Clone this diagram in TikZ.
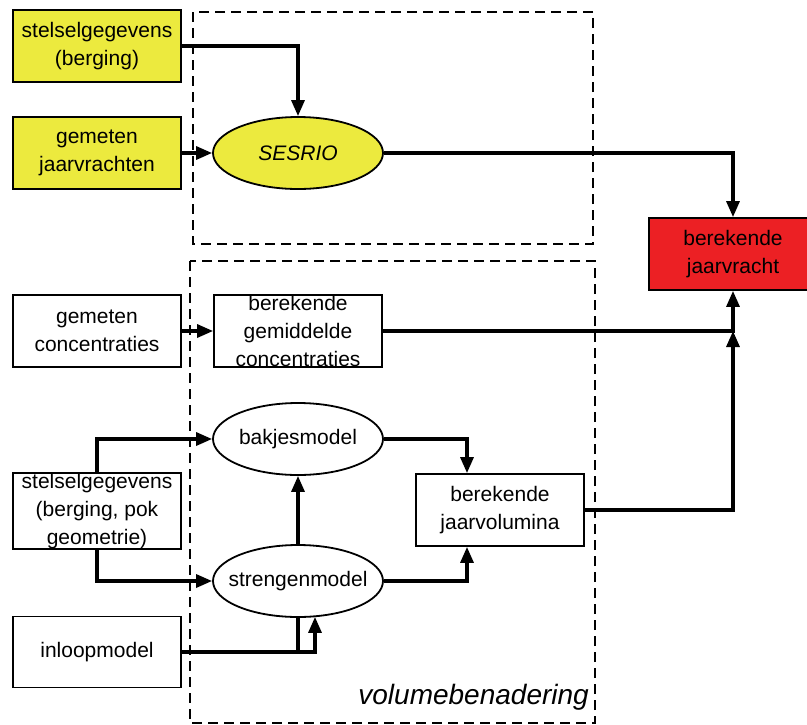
\documentclass[tikz,border=0pt]{standalone}
\usepackage{fontspec}
\setmainfont{Liberation Sans}
\usetikzlibrary{shapes.geometric,arrows.meta}
\definecolor{ylw}{RGB}{236,234,62}
\definecolor{rd}{RGB}{236,32,36}
\tikzset{
  txt/.style={align=center,font=\fontsize{21}{28}\selectfont,inner sep=0pt},
  box/.style={txt,draw,line width=1.8pt,minimum width=168pt,minimum height=72pt},
  ell/.style={txt,ellipse,draw,line width=1.8pt,minimum width=170pt,minimum height=72pt},
  conn/.style={line width=3.2pt},
  arr/.style={conn,-{Triangle[length=16pt,width=13pt]}},
  dbox/.style={draw,line width=1.6pt,dash pattern=on 10pt off 6pt}
}
\begin{document}
\begin{tikzpicture}[x=1pt,y=-1pt]
\clip (0,0) rectangle (807,724);
\fill[white] (0,0) rectangle (807,724);
% dashed groups
\draw[dbox] (193,12) rectangle (593,244);
\draw[dbox] (190,261) rectangle (595,723);
\node[txt,anchor=east,font=\fontsize{28}{32}\selectfont\itshape] (vb) at (589,697) {volumebenadering};
% nodes
\node[box,fill=ylw] (s1) at (97,46) {stelselgegevens\\(berging)};
\node[box,fill=ylw] (gj) at (97,153) {gemeten\\jaarvrachten};
\node[ell,fill=ylw] (ses) at (298,153) {\makebox[0pt]{\itshape SESRIO}};
\node[box,fill=rd] (red) at (733,254) {berekende\\jaarvracht};
\node[box] (gc) at (97,331) {gemeten\\concentraties};
\node[box] (bgc) at (298,331) {berekende\\gemiddelde\\concentraties};
\node[ell] (bak) at (298,439) {\makebox[0pt]{bakjesmodel}};
\node[box] (sg) at (97,511) {stelselgegevens\\(berging, pok\\geometrie)};
\node[ell] (str) at (298,581) {\makebox[0pt]{strengenmodel}};
\node[box] (vol) at (500,510) {berekende\\jaarvolumina};
\node[box,minimum height=71pt] (inl) at (97,652) {inloopmodel};
\coordinate (j) at (733,331);
% connectors
\draw[arr] (s1.east) -| (ses.north);
\draw[arr] (gj.east) -- (ses.west);
\draw[arr] (ses.east) -| (red.north);
\draw[arr] (gc.east) -- (bgc.west);
\draw[arr] (bgc.east) -| (red.south);
\draw[arr] (vol.east) -| (j);
\draw[arr] (sg.north) |- (bak.west);
\draw[arr] (sg.south) |- (str.west);
\draw[arr] (str.north) -- (bak.south);
\draw[arr] (bak.east) -| ([xshift=-33pt]vol.north);
\draw[arr] (str.east) -| ([xshift=-33pt]vol.south);
\draw[arr] (inl.east) -| ([xshift=17pt,yshift=1pt]str.south);
\draw[conn] (inl.east -| str.south) -- (str.south);
\end{tikzpicture}
\end{document}
